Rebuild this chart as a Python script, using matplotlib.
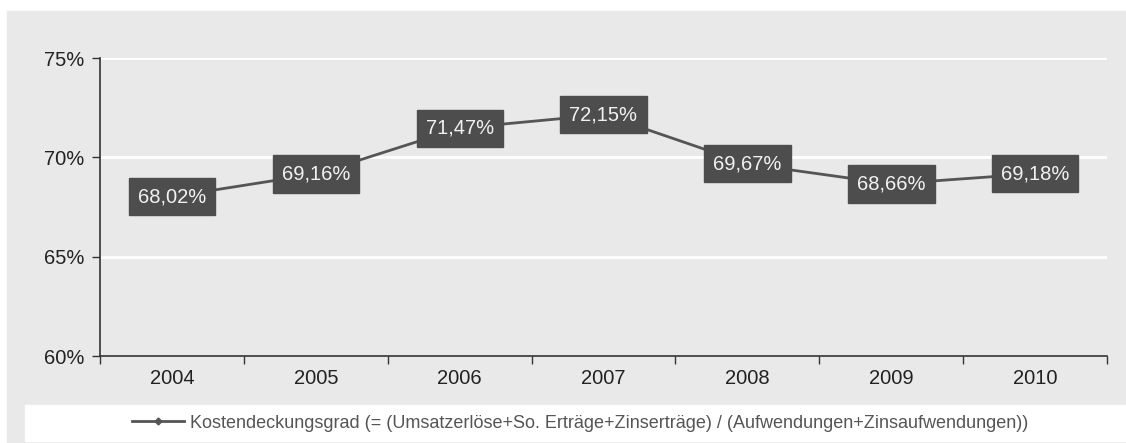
import matplotlib.pyplot as plt
from matplotlib.patches import Rectangle
from matplotlib.lines import Line2D

plt.rcParams['font.family'] = ['Liberation Sans', 'DejaVu Sans']

years = ['2004', '2005', '2006', '2007', '2008', '2009', '2010']
values = [68.02, 69.16, 71.47, 72.15, 69.67, 68.66, 69.18]
y_ticks = [60, 65, 70, 75]
series_name = ('Kostendeckungsgrad (= (Umsatzerlöse+So. Erträge+Zinserträge) / '
               '(Aufwendungen+Zinsaufwendungen))')

W, H = 1126, 443
fig = plt.figure(figsize=(W / 100, H / 100), dpi=100)
fig.patch.set_facecolor('white')

# grey panel and white legend strip
fig.patches.append(Rectangle((7 / W, 0), 1 - 7 / W, (H - 11) / H,
                             transform=fig.transFigure, color='#e9e9e9', zorder=-2))
fig.patches.append(Rectangle((25 / W, 2 / H), 1 - 25 / W, 36 / H,
                             transform=fig.transFigure, color='white', zorder=-1))

ax = fig.add_axes([100 / W, (H - 356) / H, (1107 - 100) / W, (356 - 58) / H])
ax.set_zorder(2)
ax.patch.set_alpha(0)

x = list(range(len(years)))
ax.plot(x, values, color='#555555', lw=2, zorder=3)

for xi, v in zip(x, values):
    ax.text(xi, v, f'{v:.2f}%'.replace('.', ','), ha='center', va='center',
            fontsize=14.5, color='#f2f2f2', zorder=4,
            bbox=dict(boxstyle='square,pad=0.45', fc='#4d4d4d', ec='#4d4d4d'))

ax.set_ylim(60, 75)
ax.set_yticks(y_ticks)
ax.set_yticklabels([f'{t}%' for t in y_ticks])
for t in y_ticks[1:]:
    ax.axhline(t, color='white', lw=2, zorder=1)

ax.set_xlim(-0.5, len(years) - 0.5)
ax.set_xticks([i - 0.5 for i in range(len(years) + 1)])
ax.set_xticklabels([])
ax.set_xticks(x, minor=True)
ax.set_xticklabels(years, minor=True)
ax.tick_params(axis='x', which='minor', length=0, pad=9)
ax.tick_params(axis='both', which='major', length=6, width=1, color='#333333')
ax.tick_params(which='both', labelsize=14.5, labelcolor='#222222')
ax.tick_params(axis='y', pad=5)

for s in ['top', 'right']:
    ax.spines[s].set_visible(False)
for s in ['left', 'bottom']:
    ax.spines[s].set_color('#333333')
    ax.spines[s].set_linewidth(1.2)

handle = Line2D([], [], color='#555555', lw=2, marker='D', markersize=3.5)
fig.legend([handle], [series_name], loc='center', bbox_to_anchor=(580 / W, 20 / H),
           frameon=False, fontsize=13, handlelength=2.9, labelcolor='#555555',
           handletextpad=0.3)

fig.savefig('out.png', dpi=100)
